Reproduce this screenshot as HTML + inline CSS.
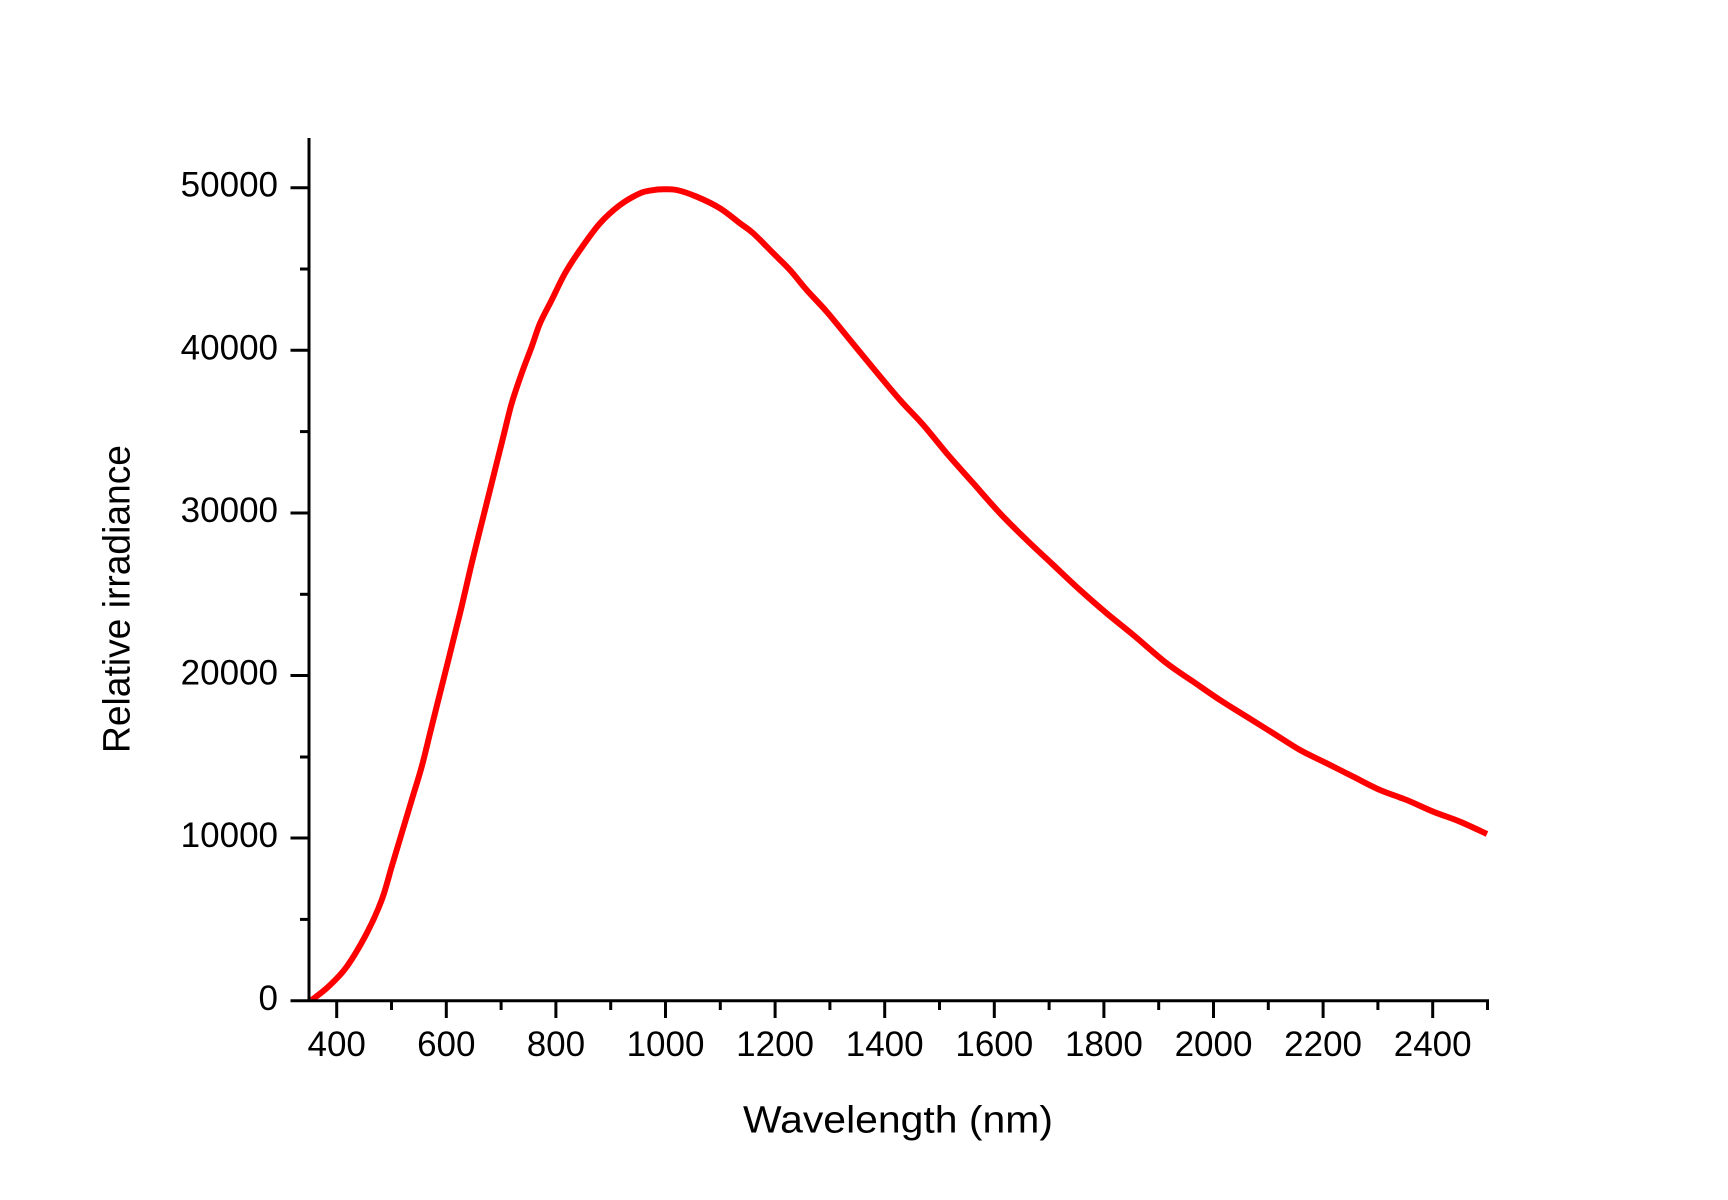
<!DOCTYPE html>
<html>
<head>
<meta charset="utf-8">
<style>
  html, body { margin: 0; padding: 0; background: #ffffff; }
  svg { display: block; }
  text { font-family: "Liberation Sans", "DejaVu Sans", sans-serif; fill: #000; }
</style>
</head>
<body>
<svg width="1728" height="1200" viewBox="0 0 1728 1200" xmlns="http://www.w3.org/2000/svg">
  <rect width="1728" height="1200" fill="#ffffff"/>

  <!-- curve -->
  <polyline id="raw" fill="none" stroke="#ff0000" stroke-width="6" stroke-linejoin="round" stroke-linecap="butt"
    points="311.7,1000 328.3,986.7 346.7,966.7 366.7,933.3 381.7,900 391.7,866.7 401.7,833.3 411.7,800 421.7,766.7 430,733.3 438.3,700 446.7,666.7 455,633.3 462,605 471.7,563.3 483.3,516.7 493.3,476.7 503.3,436.7 511.7,403.3 521.7,373.3 531.7,346.7 540,323.3 551.7,300 565,273.3 580,250 600,223.3 620,205 640,193.3 652,190.3 663.3,189.3 676.7,190 696.7,196.7 720,208.3 740,223.3 753.3,233.3 773.3,253.3 790,270 806.7,290 826.7,311.7 850,340 873.3,368.3 900,400 923.3,425 946.7,453.3 973.3,483.3 1000,513.3 1026.7,540 1053.3,565 1080,590 1106.7,613.3 1133.3,635 1166.7,663.3 1193.3,681.7 1220,700 1246.7,716.7 1273.3,733.3 1300,750 1326.7,763.3 1353.3,776.7 1380,790 1406.7,800 1433.3,811.7 1460,821.7 1487,834"/>
  <path id="smooth" fill="none" stroke="#ff0000" stroke-width="6" stroke-linejoin="round" d=""/>

  <!-- axes -->
  <g stroke="#000" stroke-width="3" fill="none">
    <line x1="309" y1="138" x2="309" y2="1002"/>
    <line x1="290.5" y1="1000.7" x2="1489" y2="1000.7"/>
    <line x1="290.5" y1="838" x2="309" y2="838"/>
    <line x1="290.5" y1="675.5" x2="309" y2="675.5"/>
    <line x1="290.5" y1="513" x2="309" y2="513"/>
    <line x1="290.5" y1="350.3" x2="309" y2="350.3"/>
    <line x1="290.5" y1="187.7" x2="309" y2="187.7"/>
    <line x1="300" y1="919.4" x2="309" y2="919.4"/>
    <line x1="300" y1="757" x2="309" y2="757"/>
    <line x1="300" y1="594.3" x2="309" y2="594.3"/>
    <line x1="300" y1="431.6" x2="309" y2="431.6"/>
    <line x1="300" y1="269" x2="309" y2="269"/>
    <line x1="336.7" y1="1000" x2="336.7" y2="1018"/>
    <line x1="446.3" y1="1000" x2="446.3" y2="1018"/>
    <line x1="555.9" y1="1000" x2="555.9" y2="1018"/>
    <line x1="665.5" y1="1000" x2="665.5" y2="1018"/>
    <line x1="775.1" y1="1000" x2="775.1" y2="1018"/>
    <line x1="884.7" y1="1000" x2="884.7" y2="1018"/>
    <line x1="994.3" y1="1000" x2="994.3" y2="1018"/>
    <line x1="1103.9" y1="1000" x2="1103.9" y2="1018"/>
    <line x1="1213.5" y1="1000" x2="1213.5" y2="1018"/>
    <line x1="1323.1" y1="1000" x2="1323.1" y2="1018"/>
    <line x1="1432.7" y1="1000" x2="1432.7" y2="1018"/>
    <line x1="391.5" y1="1000" x2="391.5" y2="1010"/>
    <line x1="501.1" y1="1000" x2="501.1" y2="1010"/>
    <line x1="610.7" y1="1000" x2="610.7" y2="1010"/>
    <line x1="720.3" y1="1000" x2="720.3" y2="1010"/>
    <line x1="829.9" y1="1000" x2="829.9" y2="1010"/>
    <line x1="939.5" y1="1000" x2="939.5" y2="1010"/>
    <line x1="1049.1" y1="1000" x2="1049.1" y2="1010"/>
    <line x1="1158.7" y1="1000" x2="1158.7" y2="1010"/>
    <line x1="1268.3" y1="1000" x2="1268.3" y2="1010"/>
    <line x1="1377.9" y1="1000" x2="1377.9" y2="1010"/>
    <line x1="1487.5" y1="1000" x2="1487.5" y2="1010"/>
  </g>

  <!-- y tick labels -->
  <g font-size="35" text-anchor="end">
    <text x="278" y="1010">0</text>
    <text x="278" y="847">10000</text>
    <text x="278" y="684.5">20000</text>
    <text x="278" y="522">30000</text>
    <text x="278" y="359.3">40000</text>
    <text x="278" y="196.7">50000</text>
  </g>

  <!-- x tick labels -->
  <g font-size="35" text-anchor="middle">
    <text x="336.7" y="1056">400</text>
    <text x="446.3" y="1056">600</text>
    <text x="555.9" y="1056">800</text>
    <text x="665.5" y="1056">1000</text>
    <text x="775.1" y="1056">1200</text>
    <text x="884.7" y="1056">1400</text>
    <text x="994.3" y="1056">1600</text>
    <text x="1103.9" y="1056">1800</text>
    <text x="1213.5" y="1056">2000</text>
    <text x="1323.1" y="1056">2200</text>
    <text x="1432.7" y="1056">2400</text>
  </g>

  <!-- axis titles -->
  <text x="743" y="1132.7" font-size="38" textLength="310" lengthAdjust="spacingAndGlyphs">Wavelength (nm)</text>
  <text transform="translate(129.3,599) rotate(-90)" x="-154" y="0" font-size="38" textLength="308" lengthAdjust="spacingAndGlyphs">Relative irradiance</text>
</svg>
<script>
(function(){
  try {
    var raw = document.getElementById('raw');
    var pts = raw.getAttribute('points').trim().split(/\s+/).map(function(s){var a=s.split(',');return [parseFloat(a[0]),parseFloat(a[1])];});
    var d = 'M' + pts[0][0] + ',' + pts[0][1];
    for (var i = 0; i < pts.length - 1; i++) {
      var p0 = pts[i-1] || pts[i], p1 = pts[i], p2 = pts[i+1], p3 = pts[i+2] || pts[i+1];
      var c1x = p1[0] + (p2[0]-p0[0])/6, c1y = p1[1] + (p2[1]-p0[1])/6;
      var c2x = p2[0] - (p3[0]-p1[0])/6, c2y = p2[1] - (p3[1]-p1[1])/6;
      d += ' C' + c1x.toFixed(2) + ',' + c1y.toFixed(2) + ' ' + c2x.toFixed(2) + ',' + c2y.toFixed(2) + ' ' + p2[0] + ',' + p2[1];
    }
    document.getElementById('smooth').setAttribute('d', d);
    raw.setAttribute('stroke', 'none');
  } catch(e) {}
})();
</script>
</body>
</html>
